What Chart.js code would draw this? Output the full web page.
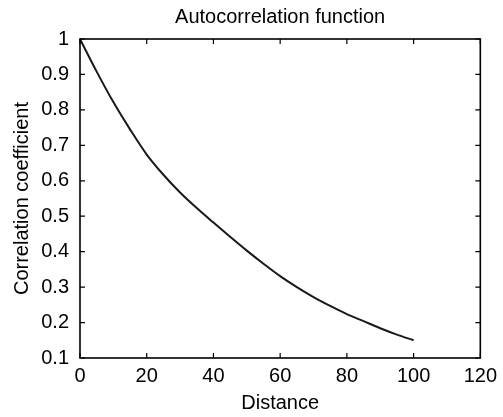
<!DOCTYPE html>
<html>
<head>
<meta charset="utf-8">
<script src="https://cdn.jsdelivr.net/npm/chart.js@4"></script>
<style>
  html, body { margin: 0; padding: 0; background: #fff; }
  #wrap { width: 503px; height: 417px; }
</style>
</head>
<body>
<div id="wrap"><canvas id="myChart" width="503" height="417"></canvas></div>
<script>
// values
const distance = [0, 5, 10, 15, 20, 25, 30, 35, 40, 45, 50, 55, 60, 65, 70, 75, 80, 85, 90, 95, 100];
const correlation = [1.0, 0.908, 0.822, 0.745, 0.674, 0.617, 0.567, 0.523, 0.482, 0.442, 0.403, 0.366, 0.331, 0.3, 0.272, 0.247, 0.224, 0.204, 0.184, 0.166, 0.15];
const xTicks = [0, 20, 40, 60, 80, 100, 120];
const yTicks = [0.1, 0.2, 0.3, 0.4, 0.5, 0.6, 0.7, 0.8, 0.9, 1];
const titleText = "Autocorrelation function";

const font = "'Liberation Sans', Arial, Helvetica, sans-serif";

// matlab style box with ticks pointing inwards, title over the plot area
const boxPlugin = {
  id: "box",
  afterDraw(chart) {
    const ctx = chart.ctx;
    const a = chart.chartArea;
    const xs = chart.scales.x;
    const ys = chart.scales.y;
    ctx.save();
    ctx.strokeStyle = "#000";
    ctx.lineWidth = 1.2;
    ctx.beginPath();
    xTicks.forEach(function (v) {
      const px = xs.getPixelForValue(v);
      ctx.moveTo(px, a.bottom);
      ctx.lineTo(px, a.bottom - 5);
      ctx.moveTo(px, a.top);
      ctx.lineTo(px, a.top + 5);
    });
    yTicks.forEach(function (v) {
      const py = ys.getPixelForValue(v);
      ctx.moveTo(a.left, py);
      ctx.lineTo(a.left + 5, py);
      ctx.moveTo(a.right, py);
      ctx.lineTo(a.right - 5, py);
    });
    ctx.stroke();
    ctx.lineWidth = 1.6;
    ctx.strokeRect(a.left, a.top, a.right - a.left, a.bottom - a.top);

    ctx.fillStyle = "#000";
    ctx.font = "20px " + font;
    ctx.textAlign = "center";
    ctx.textBaseline = "middle";
    ctx.fillText(titleText, (a.left + a.right) / 2, 17);
    ctx.restore();
  },
};

const points = distance.map(function (d, i) {
  return { x: d, y: correlation[i] };
});

var ctx = document.getElementById("myChart").getContext("2d");
var chart = new Chart(ctx, {
  type: "line",
  data: {
    datasets: [
      {
        data: points,
        borderColor: "#1a1a1a",
        borderWidth: 2,
        pointRadius: 0,
        cubicInterpolationMode: "monotone",
      },
    ],
  },
  options: {
    responsive: false,
    animation: false,
    layout: { padding: { left: 0, right: 21, top: 39, bottom: 0 } },
    plugins: {
      legend: { display: false },
      tooltip: { enabled: false },
      title: { display: false },
    },
    scales: {
      x: {
        type: "linear",
        min: 0,
        max: 120,
        afterBuildTicks: function (s) {
          s.ticks = xTicks.map(function (v) { return { value: v }; });
        },
        afterFit: function (s) { s.height = 59; },
        grid: { display: false, drawTicks: false },
        border: { display: false },
        ticks: {
          color: "#000",
          padding: 6,
          maxRotation: 0,
          font: { family: font, size: 20 },
        },
        title: {
          display: true,
          text: "Distance",
          color: "#000",
          font: { family: font, size: 20 },
          padding: { top: 0, bottom: 2 },
        },
      },
      y: {
        type: "linear",
        min: 0.1,
        max: 1,
        afterBuildTicks: function (s) {
          s.ticks = yTicks.map(function (v) { return { value: v }; });
        },
        afterFit: function (s) { s.width = 80; },
        grid: { display: false, drawTicks: false },
        border: { display: false },
        ticks: {
          color: "#000",
          padding: 11,
          font: { family: font, size: 20 },
          callback: function (v) { return String(Math.round(v * 10) / 10); },
        },
        title: {
          display: true,
          text: "Correlation coefficient",
          color: "#000",
          font: { family: font, size: 20 },
          padding: { top: 10, bottom: 0 },
        },
      },
    },
  },
  plugins: [boxPlugin],
});
</script>
</body>
</html>
